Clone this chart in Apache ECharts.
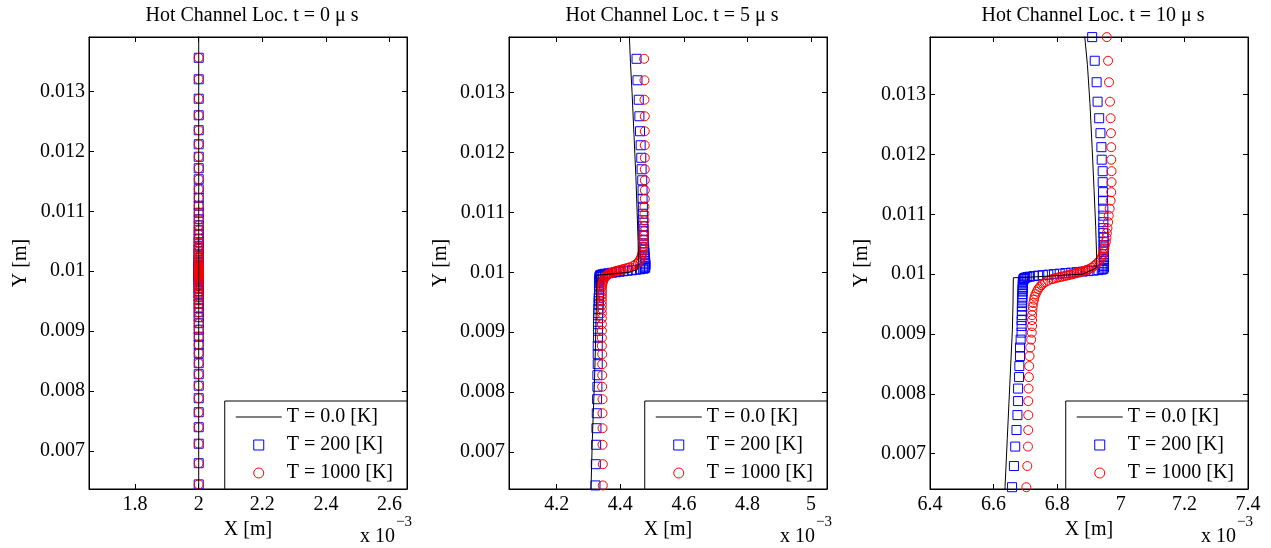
<!DOCTYPE html>
<html><head><meta charset="utf-8">
<script src="https://cdn.jsdelivr.net/npm/echarts@6/dist/echarts.min.js"></script>
<style>html,body{margin:0;padding:0;background:#fff}#c{width:1271px;height:548px}</style>
</head><body><div id="c"></div>
<script>
// ---------------- data ----------------
const SERIES_NAMES = ['T = 0.0 [K]', 'T = 200 [K]', 'T = 1000 [K]'];
const TITLES = ['Hot Channel Loc. t = 0 \u03bc s', 'Hot Channel Loc. t = 5 \u03bc s', 'Hot Channel Loc. t = 10 \u03bc s'];
const X_TICKS_1 = [1.8, 2, 2.2, 2.4, 2.6];
const X_TICKS_2 = [4.2, 4.4, 4.6, 4.8, 5];
const X_TICKS_3 = [6.4, 6.6, 6.8, 7, 7.2, 7.4];
const Y_TICKS = [0.007, 0.008, 0.009, 0.01, 0.011, 0.012, 0.013];
const X_RANGE_1 = [1.655, 2.655];
const X_RANGE_2 = [4.05, 5.05];
const X_RANGE_3 = [6.4, 7.4];
const Y_RANGE_1 = [0.006363, 0.013912];
const Y_RANGE_2 = [0.00638, 0.013929];
const Y_RANGE_3 = [0.00641, 0.013962];

// marker heights (m), shared by all panels
const Y_PTS = [
 0.013960, 0.013565, 0.013206, 0.012881, 0.012605, 0.012355, 0.012121, 0.011912, 0.011720, 0.011536,
 0.011369, 0.011227, 0.011094, 0.010977, 0.010868, 0.010768, 0.010685, 0.010610, 0.010543, 0.010484,
 0.010426, 0.010376, 0.010334, 0.010292, 0.010251, 0.010217, 0.010184, 0.010159, 0.010134, 0.010109,
 0.010084, 0.010075, 0.010067, 0.010058, 0.010050, 0.010042, 0.010033, 0.010025, 0.010017, 0.010008,
 0.010000, 0.009992, 0.009983, 0.009975, 0.009967, 0.009958, 0.009950, 0.009942, 0.009933, 0.009925,
 0.009916, 0.009891, 0.009866, 0.009841, 0.009816, 0.009783, 0.009749, 0.009708, 0.009666, 0.009624,
 0.009574, 0.009516, 0.009457, 0.009390, 0.009315, 0.009232, 0.009132, 0.009023, 0.008906, 0.008773,
 0.008631, 0.008464, 0.008280, 0.008088, 0.007879, 0.007645, 0.007395, 0.007119, 0.006794, 0.006440
];

// x positions (x 1e-3 m)
const X1_PTS = [
 2,2,2,2,2,2,2,2,2,2, 2,2,2,2,2,2,2,2,2,2, 2,2,2,2,2,2,2,2,2,2, 2,2,2,2,2,2,2,2,2,2,
 2,2,2,2,2,2,2,2,2,2, 2,2,2,2,2,2,2,2,2,2, 2,2,2,2,2,2,2,2,2,2, 2,2,2,2,2,2,2,2,2,2
];
const X2_SQ = [
 4.448, 4.451, 4.454, 4.458, 4.460, 4.462, 4.464, 4.466, 4.467, 4.469,
 4.470, 4.470, 4.471, 4.471, 4.472, 4.472, 4.473, 4.473, 4.474, 4.474,
 4.475, 4.475, 4.476, 4.476, 4.477, 4.477, 4.478, 4.478, 4.479, 4.479,
 4.478, 4.478, 4.476, 4.472, 4.462, 4.450, 4.437, 4.423, 4.410, 4.398,
 4.386, 4.374, 4.362, 4.352, 4.345, 4.340, 4.337, 4.336, 4.336, 4.335,
 4.335, 4.334, 4.334, 4.334, 4.333, 4.333, 4.333, 4.333, 4.333, 4.333,
 4.332, 4.332, 4.332, 4.331, 4.331, 4.330, 4.330, 4.330, 4.330, 4.329,
 4.329, 4.329, 4.328, 4.328, 4.327, 4.326, 4.325, 4.324, 4.323, 4.322
];
const X2_CI = [
 4.474, 4.475, 4.476, 4.476, 4.477, 4.477, 4.477, 4.477, 4.477, 4.477,
 4.477, 4.477, 4.476, 4.476, 4.476, 4.475, 4.475, 4.474, 4.474, 4.473,
 4.472, 4.471, 4.470, 4.468, 4.466, 4.463, 4.459, 4.455, 4.449, 4.441,
 4.430, 4.425, 4.420, 4.414, 4.408, 4.402, 4.396, 4.390, 4.385, 4.380,
 4.376, 4.372, 4.368, 4.365, 4.362, 4.360, 4.358, 4.356, 4.354, 4.353,
 4.352, 4.349, 4.347, 4.345, 4.344, 4.343, 4.342, 4.342, 4.342, 4.342,
 4.342, 4.342, 4.342, 4.342, 4.342, 4.342, 4.342, 4.342, 4.342, 4.342,
 4.343, 4.343, 4.343, 4.343, 4.344, 4.344, 4.344, 4.344, 4.345, 4.345
];
const X3_SQ = [
 6.910, 6.918, 6.924, 6.927, 6.932, 6.936, 6.939, 6.940, 6.943, 6.943,
 6.944, 6.944, 6.945, 6.945, 6.945, 6.945, 6.945, 6.946, 6.946, 6.946,
 6.946, 6.946, 6.947, 6.947, 6.947, 6.947, 6.947, 6.947, 6.947, 6.947,
 6.945, 6.940, 6.930, 6.915, 6.898, 6.880, 6.862, 6.844, 6.826, 6.808,
 6.790, 6.772, 6.755, 6.740, 6.726, 6.714, 6.706, 6.700, 6.697, 6.695,
 6.694, 6.693, 6.692, 6.692, 6.692, 6.692, 6.691, 6.691, 6.691, 6.690,
 6.690, 6.690, 6.689, 6.689, 6.689, 6.688, 6.688, 6.688, 6.685, 6.683,
 6.683, 6.681, 6.680, 6.677, 6.677, 6.675, 6.672, 6.668, 6.664, 6.658
];
const X3_CI = [
 6.956, 6.960, 6.963, 6.966, 6.968, 6.969, 6.970, 6.970, 6.971, 6.971,
 6.970, 6.968, 6.965, 6.962, 6.960, 6.958, 6.956, 6.955, 6.953, 6.950,
 6.948, 6.946, 6.944, 6.941, 6.937, 6.932, 6.926, 6.921, 6.915, 6.908,
 6.900, 6.896, 6.892, 6.887, 6.882, 6.877, 6.872, 6.866, 6.860, 6.854,
 6.848, 6.842, 6.836, 6.829, 6.822, 6.815, 6.808, 6.801, 6.795, 6.789,
 6.783, 6.771, 6.762, 6.755, 6.750, 6.745, 6.740, 6.736, 6.732, 6.729,
 6.727, 6.725, 6.723, 6.722, 6.721, 6.721, 6.721, 6.720, 6.718, 6.715,
 6.713, 6.712, 6.711, 6.710, 6.709, 6.709, 6.709, 6.708, 6.706, 6.703
];

// T = 0 reference curves
const L1_X = [2, 2];
const L1_Y = [0.0142, 0.0062];
const L2_X = [4.428, 4.432, 4.437, 4.443, 4.449, 4.453, 4.456, 4.457, 4.455, 4.430, 4.340, 4.326, 4.325, 4.322, 4.319, 4.315, 4.312, 4.308, 4.307];
const L2_Y = [0.01400, 0.01350, 0.01300, 0.01230, 0.01160, 0.01100, 0.01050, 0.01020, 0.01005, 0.01000, 0.009955, 0.009950, 0.009500, 0.008800, 0.008200, 0.007640, 0.007200, 0.006420, 0.006300];
const L3_X = [6.886, 6.895, 6.903, 6.910, 6.916, 6.921, 6.924, 6.922, 6.880, 6.700, 6.662, 6.661, 6.659, 6.651, 6.643, 6.636, 6.635];
const L3_Y = [0.01400, 0.01350, 0.01285, 0.01210, 0.01140, 0.01080, 0.01030, 0.01010, 0.01000, 0.009945, 0.009940, 0.009500, 0.009070, 0.008160, 0.007250, 0.006450, 0.006300];

// ---------------- layout / build ----------------
const FONT = 'Liberation Serif';
const FS = 20;
const GRIDS = [
  {left: 89, top: 37, width: 318, height: 452},
  {left: 509, top: 37, width: 318, height: 452},
  {left: 930, top: 37, width: 318, height: 452}
];
const P = [
  {xr: X_RANGE_1, yr: Y_RANGE_1, xt: X_TICKS_1, sq: X1_PTS, ci: X1_PTS, lx: L1_X, ly: L1_Y},
  {xr: X_RANGE_2, yr: Y_RANGE_2, xt: X_TICKS_2, sq: X2_SQ, ci: X2_CI, lx: L2_X, ly: L2_Y},
  {xr: X_RANGE_3, yr: Y_RANGE_3, xt: X_TICKS_3, sq: X3_SQ, ci: X3_CI, lx: L3_X, ly: L3_Y}
];
const fmt = v => String(Math.round(v * 1e6) / 1e6);
const txt = {fontFamily: FONT, fontSize: FS, color: '#000'};

const grid = [], xAxis = [], yAxis = [], series = [], title = [], legend = [], graphic = [];
P.forEach((p, i) => {
  const g = GRIDS[i];
  grid.push(Object.assign({show: true, borderColor: '#000', borderWidth: 1, backgroundColor: 'transparent', containLabel: false}, g));
  const axLine = {show: true, onZero: false, lineStyle: {color: '#000', width: 1}};
  xAxis.push({
    type: 'value', gridIndex: i, position: 'bottom', min: p.xr[0], max: p.xr[1],
    axisLine: axLine,
    axisTick: {show: true, inside: true, length: 5, lineStyle: {color: '#000'}, customValues: p.xt},
    axisLabel: Object.assign({show: true, margin: 6, customValues: p.xt, formatter: fmt, showMinLabel: true, showMaxLabel: true}, txt),
    splitLine: {show: false},
    name: 'X [m]', nameLocation: 'middle', nameGap: 25, nameTextStyle: txt
  });
  xAxis.push({
    type: 'value', gridIndex: i, position: 'top', min: p.xr[0], max: p.xr[1],
    axisLine: axLine,
    axisTick: {show: true, inside: true, length: 5, lineStyle: {color: '#000'}, customValues: p.xt},
    axisLabel: {show: false}, splitLine: {show: false}
  });
  yAxis.push({
    type: 'value', gridIndex: i, position: 'left', min: p.yr[0], max: p.yr[1],
    axisLine: axLine,
    axisTick: {show: true, inside: true, length: 5, lineStyle: {color: '#000'}, customValues: Y_TICKS},
    axisLabel: Object.assign({show: true, margin: 4, customValues: Y_TICKS, formatter: fmt}, txt),
    splitLine: {show: false},
    name: 'Y [m]', nameLocation: 'middle', nameGap: 58, nameRotate: 90, nameTextStyle: txt
  });
  yAxis.push({
    type: 'value', gridIndex: i, position: 'right', min: p.yr[0], max: p.yr[1],
    axisLine: axLine,
    axisTick: {show: true, inside: true, length: 5, lineStyle: {color: '#000'}, customValues: Y_TICKS},
    axisLabel: {show: false}, splitLine: {show: false}
  });
  series.push({
    type: 'line', name: SERIES_NAMES[0], xAxisIndex: 2 * i, yAxisIndex: 2 * i,
    data: p.lx.map((x, k) => [x, p.ly[k]]),
    symbol: 'none', showSymbol: false, clip: true, silent: true,
    lineStyle: {color: '#000', width: 1}, itemStyle: {color: '#000'}
  });
  series.push({
    type: 'scatter', name: SERIES_NAMES[1], xAxisIndex: 2 * i, yAxisIndex: 2 * i,
    data: p.sq.map((x, k) => [x, Y_PTS[k]]),
    symbol: 'rect', symbolSize: 9, clip: true, silent: true,
    itemStyle: {color: 'rgba(0,0,0,0)', borderColor: '#0000ff', borderWidth: 1, opacity: 1}
  });
  series.push({
    type: 'scatter', name: SERIES_NAMES[2], xAxisIndex: 2 * i, yAxisIndex: 2 * i,
    data: p.ci.map((x, k) => [x, Y_PTS[k]]),
    symbol: 'circle', symbolSize: 9, clip: true, silent: true,
    itemStyle: {color: 'rgba(0,0,0,0)', borderColor: '#ff0000', borderWidth: 1, opacity: 1}
  });
  title.push({
    text: TITLES[i], left: g.left + g.width / 2 + 4, top: 6, textAlign: 'center', padding: 0,
    textStyle: {fontFamily: FONT, fontSize: FS, fontWeight: 'normal', color: '#000'}
  });
  legend.push({
    orient: 'vertical', right: 1271 - (g.left + g.width), bottom: 548 - (g.top + g.height),
    padding: [6, 14, 6, 11], itemGap: 8, itemWidth: 46, itemHeight: 10,
    backgroundColor: '#fff', borderColor: '#000', borderWidth: 1, borderRadius: 0,
    selectedMode: false, textStyle: txt, itemStyle: {borderWidth: 1},
    data: [
      {name: SERIES_NAMES[0], icon: 'path://M0,0L46,0L46,1L0,1Z',
       itemStyle: {color: '#000', borderWidth: 0}},
      {name: SERIES_NAMES[1], icon: 'path://M0,0L10,0L10,10L0,10Z'},
      {name: SERIES_NAMES[2], icon: 'circle'}
    ]
  });
  const r = g.left + g.width;
  graphic.push({type: 'text', x: r - 47, y: 536.5, silent: true,
    style: {text: 'x 10', fontFamily: FONT, fontSize: FS, fill: '#000', verticalAlign: 'middle', align: 'left'}});
  graphic.push({type: 'text', x: r - 11, y: 522.5, silent: true,
    style: {text: '\u22123', fontFamily: FONT, fontSize: 15, fill: '#000', verticalAlign: 'middle', align: 'left'}});
});

const chart = echarts.init(document.getElementById('c'), null, {renderer: 'canvas'});
chart.setOption({
  animation: false,
  backgroundColor: '#fff',
  textStyle: {fontFamily: FONT},
  title, grid, xAxis, yAxis, legend, series, graphic
});
</script>
</body></html>
